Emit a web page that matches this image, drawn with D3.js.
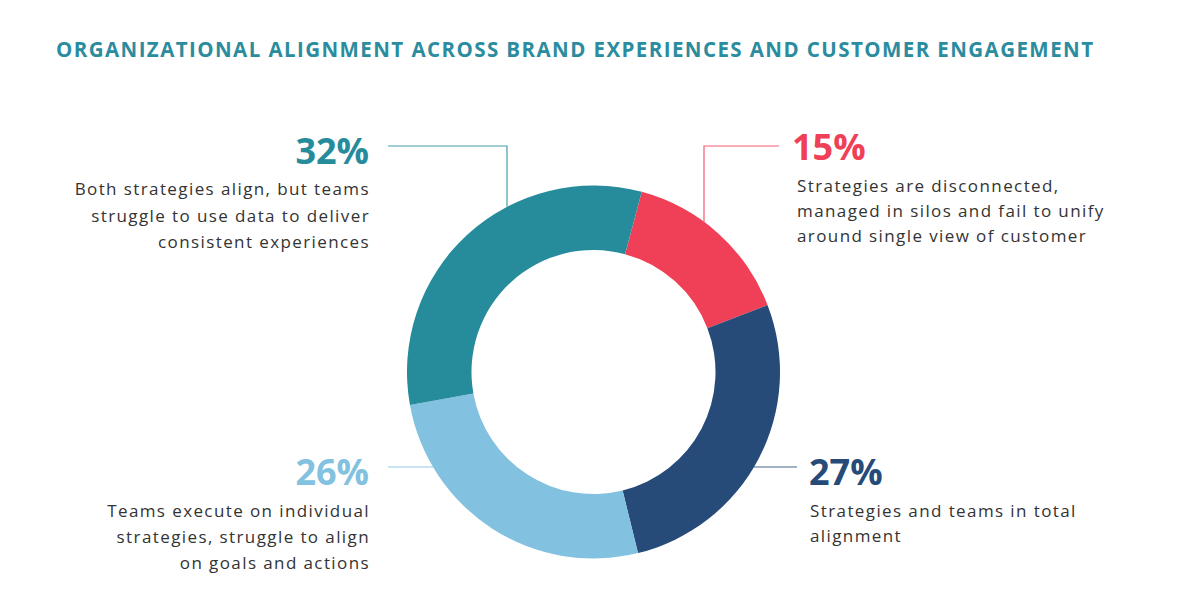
<!DOCTYPE html>
<html>
<head>
<meta charset="utf-8">
<script src="https://cdn.jsdelivr.net/npm/d3@7"></script>
<style>
  html, body { margin: 0; padding: 0; background: #ffffff; }
  svg { display: block; }
</style>
</head>
<body>
<svg id="chart" width="1191" height="603"></svg>
<script>
// ---- data ----
const title = "ORGANIZATIONAL ALIGNMENT ACROSS BRAND EXPERIENCES AND CUSTOMER ENGAGEMENT";
const categories = ["Disconnected", "Total alignment", "Individual strategies", "Both align"];
const values = [15, 27, 26, 32];
const colors = ["#EF4058", "#264B78", "#83C1E0", "#268C9C"];
const descriptions = [
  ["Strategies are disconnected,", "managed in silos and fail to unify", "around single view of customer"],
  ["Strategies and teams in total", "alignment"],
  ["Teams execute on individual", "strategies, struggle to align", "on goals and actions"],
  ["Both strategies align, but teams", "struggle to use data to deliver", "consistent experiences"]
];

// ---- layout ----
const svg = d3.select("#chart");
const cx = 593.5, cy = 372, R = 186.5, r = 122;
const startDeg = 15;

svg.append("text")
  .attr("x", 56).attr("y", 57)
  .attr("textLength", 1037).attr("lengthAdjust", "spacing")
  .attr("font-family", "'Open Sans', sans-serif")
  .attr("font-weight", 700).attr("font-size", 20.5)
  .attr("fill", "#2A8C9E")
  .text(title);

const pie = d3.pie().sort(null)
  .startAngle(startDeg * Math.PI / 180)
  .endAngle(startDeg * Math.PI / 180 + 2 * Math.PI);
const arc = d3.arc().innerRadius(r).outerRadius(R);
const arcs = pie(values);

const g = svg.append("g").attr("transform", `translate(${cx},${cy})`);
g.selectAll("path").data(arcs).enter().append("path")
  .attr("d", arc)
  .attr("fill", (d, i) => colors[i]);

const labelLayout = [
  { lineX: 704, lineY: 146, endX: 779, type: "vert", tx: 797, px: 792, pctY: 160, descY: 192, anchor: "start", lh: 25 },
  { lineY: 467, endX: 797, type: "horiz", side: 1, tx: 810, px: 809, pctY: 485, descY: 517, anchor: "start", lh: 25 },
  { lineY: 467, endX: 388, type: "horiz", side: -1, tx: 370, px: 369, pctY: 485, descY: 517, anchor: "end", lh: 26 },
  { lineX: 507, lineY: 146, endX: 388, type: "vert", tx: 370, px: 369, pctY: 164, descY: 195, anchor: "end", lh: 26.5 }
];

arcs.forEach((a, i) => {
  const L = labelLayout[i];
  let pts;
  if (L.type === "vert") {
    const dx = L.lineX - cx;
    const yHit = cy - Math.sqrt(R * R - dx * dx);
    pts = [[L.endX, L.lineY], [L.lineX, L.lineY], [L.lineX, yHit]];
  } else {
    const dy = L.lineY - cy;
    const xHit = cx + L.side * Math.sqrt(R * R - dy * dy);
    pts = [[L.endX, L.lineY], [xHit, L.lineY]];
  }
  svg.append("path")
    .attr("d", d3.line()(pts))
    .attr("fill", "none")
    .attr("stroke", colors[i])
    .attr("stroke-opacity", 0.85)
    .attr("stroke-width", 1.2);

  svg.append("text")
    .attr("x", L.px).attr("y", L.pctY)
    .attr("text-anchor", L.anchor)
    .attr("font-family", "'Open Sans', sans-serif")
    .attr("font-weight", 700).attr("font-size", 36)
    .attr("fill", colors[i])
    .text(values[i] + "%");

  const t = svg.append("text")
    .attr("text-anchor", L.anchor)
    .attr("font-family", "'Open Sans', sans-serif")
    .attr("font-size", 17)
    .attr("letter-spacing", 1.4)
    .attr("fill", "#333333");
  descriptions[i].forEach((line, k) => {
    t.append("tspan").attr("x", L.tx).attr("y", L.descY + k * L.lh).text(line);
  });
});
</script>
</body>
</html>
